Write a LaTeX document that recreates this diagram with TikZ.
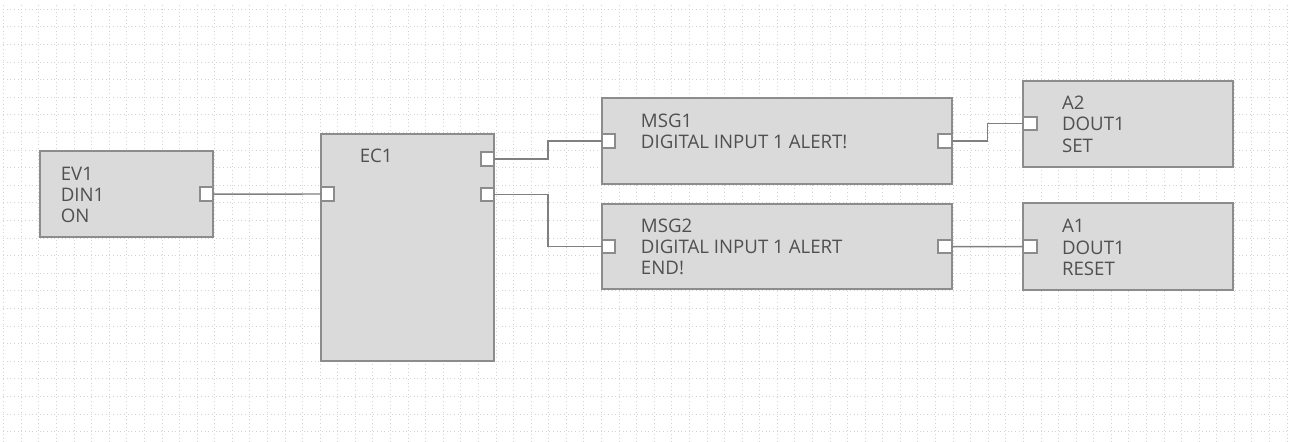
\documentclass[tikz,border=0pt]{standalone}
\usepackage{fontspec}
\setmainfont{Open Sans}
\usetikzlibrary{positioning,calc}
\definecolor{boxfill}{RGB}{218,218,218}
\definecolor{boxline}{RGB}{140,140,140}
\definecolor{wiregray}{RGB}{128,128,128}
\definecolor{txtgray}{RGB}{80,80,80}
\definecolor{gridgray}{RGB}{210,210,210}

\begin{document}
\begin{tikzpicture}[
      x=0.75pt, y=-0.75pt,
      blk/.style={draw=boxline, fill=boxfill, line width=1.5pt, anchor=north west,
        inner sep=0pt, outer sep=0pt},
      port/.style={draw=boxline, fill=white, line width=1.5pt, minimum size=10pt,
        inner sep=0pt, outer sep=0pt},
      lbl/.style={text=txtgray, font=\fontsize{14}{16}\selectfont, align=left,
        anchor=north west, inner sep=0pt},
      wire/.style={draw=wiregray, line width=1.1pt},
      gridln/.style={draw=gridgray, line width=0.75pt, dotted}
    ]
    \fill[white] (0,0) rectangle (1289,442);
    \useasboundingbox (0,0) rectangle (1289,442);
    % ---- background grid ----
    \foreach \k in {0,...,73}
      \draw[gridln] (3.8+\k*17.58,5) -- (3.8+\k*17.58,442);
    \foreach \k in {0,...,24}
      \draw[gridln] (3,9.3+\k*17.6) -- (1289,9.3+\k*17.6);

    % ---- blocks ----
    \node[blk, minimum width=130.4pt, minimum height=63.9pt] (ev1) at (39.5,151.5) {};
    \node[blk, minimum width=130pt, minimum height=170pt] (ec1) at (321,134) {};
    \node[blk, minimum width=262.5pt, minimum height=64.3pt] (msg1) at (601.7,98.3) {};
    \node[blk, minimum width=262.5pt, minimum height=63.8pt] (msg2) at (601.7,204) {};
    \node[blk, minimum width=157pt, minimum height=64.5pt] (a2) at (1023.3,80.7) {};
    \node[blk, minimum width=157pt, minimum height=65pt] (a1) at (1023.3,203.3) {};

    % ---- labels (top of caps) ----
    \node[lbl] (ev1txt) at ([shift={(21,15.2)}]ev1.north west) {EV1\\DIN1\\ON};
    \node[lbl] (ec1txt) at ([shift={(38.5,15)}]ec1.north west) {EC1};
    \node[lbl] (msg1txt) at ([shift={(39,15.1)}]msg1.north west) {MSG1\\DIGITAL INPUT 1 ALERT!};
    \node[lbl] (msg2txt) at ([shift={(39,14.5)}]msg2.north west) {MSG2\\DIGITAL INPUT 1 ALERT\\END!};
    \node[lbl] (a2txt) at ([shift={(38.5,15)}]a2.north west) {A2\\DOUT1\\SET};
    \node[lbl] (a1txt) at ([shift={(38.5,15.9)}]a1.north west) {A1\\DOUT1\\RESET};

    % ---- ports ----
    \node[port, anchor=east] (ev1out) at (ev1.east) {};
    \node[port, anchor=west] (ec1in) at ([shift={(0,60)}]ec1.north west) {};
    \node[port, anchor=east] (ec1o1) at ([shift={(0,25)}]ec1.north east) {};
    \node[port, anchor=east] (ec1o2) at ([shift={(0,60.5)}]ec1.north east) {};
    \node[port, anchor=west] (msg1in) at (msg1.west) {};
    \node[port, anchor=east] (msg1out) at (msg1.east) {};
    \node[port, anchor=west] (msg2in) at (msg2.west) {};
    \node[port, anchor=east] (msg2out) at (msg2.east) {};
    \node[port, anchor=west] (a2in) at (a2.west) {};
    \node[port, anchor=west] (a1in) at (a1.west) {};

    % ---- wires ----
    \draw[wire] (ev1out.east) -- (ec1in.west);
    \draw[wire] (ec1o1.east) -| ($(ec1o1.east)!.5!(msg1in.west)$) |- (msg1in.west);
    \draw[wire] (ec1o2.east) -| ($(ec1o2.east)!.5!(msg2in.west)$) |- (msg2in.west);
    \draw[wire] (msg1out.east) -| ($(msg1out.east)!.5!(a2in.west)$) |- (a2in.west);
    \draw[wire] (msg2out.east) -- (a1in.west);
  \end{tikzpicture}
\end{document}
